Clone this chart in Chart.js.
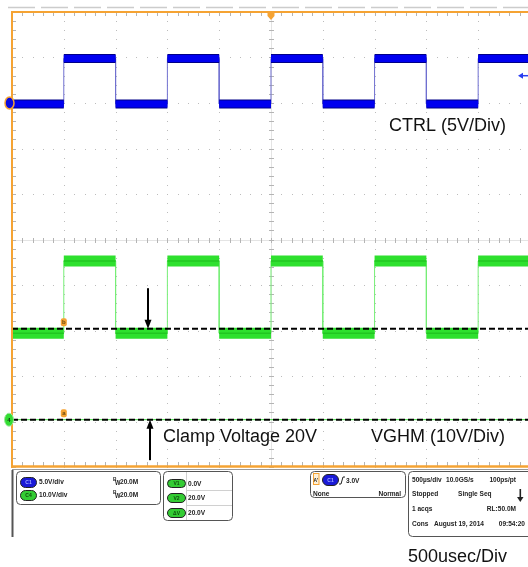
<!DOCTYPE html>
<html><head><meta charset="utf-8">
<script src="https://cdn.jsdelivr.net/npm/chart.js@4.4.0/dist/chart.umd.min.js"></script>
<style>html,body{margin:0;padding:0;background:#fff;overflow:hidden}canvas{display:block}</style>
</head><body>
<canvas id="c" width="528" height="567"></canvas>
<script>
// ---- data read from the scope capture (time in µs relative to trigger, volts) ----
const ctrlTimeUs = [-2500, -2000, -2000, -1500, -1500, -1000, -1000, -500, -500, 0, 0, 500, 500, 1000, 1000, 1500, 1500, 2000, 2000, 2481];
const ctrlVolts  = [-0.1, -0.1, 4.9, 4.9, -0.1, -0.1, 4.9, 4.9, -0.1, -0.1, 4.9, 4.9, -0.1, -0.1, 4.9, 4.9, -0.1, -0.1, 4.9, 4.9];
const vghmTimeUs = [-2497, -2497, -2000, -2000, -1500, -1500, -1000, -1000, -500, -500, 0, 0, 500, 500, 1000, 1000, 1500, 1500, 2000, 2000, 2481];
const vghmVolts  = [30, 19.0, 19.0, 34.9, 34.9, 19.0, 19.0, 34.9, 34.9, 19.0, 19.0, 34.9, 34.9, 19.0, 19.0, 34.9, 34.9, 19.0, 19.0, 34.9, 34.9];
const cursorVolts = [0, 20];          // V1 / V2 cursors on VGHM
const cursorLabels = ['a', 'b'];
const triggerLevelVolts = 3.0;
const clampArrowDown = { t: -1187, from: 28.9, to: 20 };
const clampArrowUp   = { t: -1168, from: -8.9, to: 0 };
const timeRangeUs = [-2500, 2481];
const ctrlRangeV = [-40, 10];        // 5 V/div, 10 div
const vghmRangeV = [-10.4, 89.6];    // 10 V/div, 10 div

const pts = (ts, vs) => ts.map((t, i) => ({ x: t, y: vs[i] }));
function flatSegments(ts, vs) {
  const out = [];
  for (let i = 0; i < ts.length - 1; i++) {
    if (vs[i] === vs[i + 1] && ts[i] !== ts[i + 1]) {
      out.push({ x: ts[i], y: vs[i] }, { x: ts[i + 1], y: vs[i + 1] }, { x: ts[i + 1], y: null });
    }
  }
  return out;
}

const ORANGE = '#f5a333';
const scopePlugin = {
  id: 'scope',
  beforeDatasetsDraw(chart) {
    const { ctx, chartArea: a, scales: { x, y } } = chart;
    ctx.save();
    ctx.strokeStyle = '#cccccc'; ctx.lineWidth = 1.5; ctx.setLineDash([27, 6]);
    ctx.beginPath(); ctx.moveTo(8, 7.5); ctx.lineTo(528, 7.5); ctx.stroke(); ctx.setLineDash([]);
    const majX = [], minX = [], majY = [], minY = [];
    for (let t = -2500; t <= 2500; t += 100) { const px = Math.round(x.getPixelForValue(t)); minX.push(px); if ((t + 2500) % 500 === 0) majX.push(px); }
    for (let v = -40; v <= 10; v += 1) { const py = Math.round(y.getPixelForValue(v)); minY.push(py); if ((v + 40) % 5 === 0) majY.push(py); }
    const cx = Math.round(x.getPixelForValue(0)), cy = Math.round(y.getPixelForValue(-15));
    ctx.fillStyle = '#e4e4e4';
    ctx.fillRect(cx, a.top, 1, a.bottom - a.top);
    ctx.fillRect(a.left, cy, a.right - a.left, 1);
    ctx.fillStyle = '#bcbcbc';
    majX.forEach(px => { if (px > a.left + 2) minY.forEach(py => ctx.fillRect(px, py, 1, 1)); });
    majY.forEach(py => { if (py > a.top + 2 && py < a.bottom - 2) minX.forEach(px => ctx.fillRect(px, py, 1, 1)); });
    ctx.fillStyle = '#b4b4b4';
    minY.forEach(py => { ctx.fillRect(cx - 2, py, 5, 1); ctx.fillRect(a.left, py, 4, 1); });
    minX.forEach(px => { ctx.fillRect(px, cy - 2, 1, 5); ctx.fillRect(px, a.top, 1, 4); ctx.fillRect(px, a.bottom - 5, 1, 4); });
    ctx.restore();
  },
  afterDatasetsDraw(chart) {
    const { ctx, chartArea: a, scales: { x, y, yV } } = chart;
    ctx.save();
    ctx.strokeStyle = ORANGE; ctx.lineWidth = 2;
    ctx.beginPath(); ctx.moveTo(11, 12); ctx.lineTo(528, 12); ctx.stroke();
    ctx.beginPath(); ctx.moveTo(12, 11); ctx.lineTo(12, 468); ctx.stroke();
    ctx.lineWidth = 2.5;
    ctx.beginPath(); ctx.moveTo(11, 466.5); ctx.lineTo(528, 466.5); ctx.stroke();
    const tx = x.getPixelForValue(0);
    ctx.fillStyle = ORANGE;
    ctx.beginPath(); ctx.moveTo(tx - 3.5, 11); ctx.lineTo(tx + 3.5, 11); ctx.lineTo(tx + 3.5, 16); ctx.lineTo(tx, 20); ctx.lineTo(tx - 3.5, 16); ctx.closePath(); ctx.fill();
    const c1y = y.getPixelForValue(0);
    ctx.beginPath(); ctx.ellipse(9.5, c1y, 4.5, 6, 0, 0, Math.PI * 2);
    ctx.fillStyle = '#0a0ae0'; ctx.fill(); ctx.strokeStyle = ORANGE; ctx.lineWidth = 1.5; ctx.stroke();
    const c4y = yV.getPixelForValue(0);
    ctx.beginPath(); ctx.ellipse(9, c4y, 4.5, 6.5, 0, 0, Math.PI * 2);
    ctx.fillStyle = '#33dd33'; ctx.fill(); ctx.strokeStyle = '#9be89b'; ctx.lineWidth = 1; ctx.stroke();
    ctx.fillStyle = '#114411'; ctx.font = 'bold 6px "Liberation Sans"'; ctx.textAlign = 'center'; ctx.textBaseline = 'middle';
    ctx.fillText('4', 9, c4y + 0.5);
    const tly = y.getPixelForValue(triggerLevelVolts);
    ctx.strokeStyle = '#2a3cf0'; ctx.fillStyle = '#2a3cf0'; ctx.lineWidth = 1.5;
    ctx.beginPath(); ctx.moveTo(522, tly); ctx.lineTo(528, tly); ctx.stroke();
    ctx.beginPath(); ctx.moveTo(518, tly); ctx.lineTo(523, tly - 3); ctx.lineTo(523, tly + 3); ctx.closePath(); ctx.fill();
    cursorVolts.forEach((v, i) => {
      const mx = x.getPixelForValue(-2000), my = yV.getPixelForValue(v) - 6.5;
      ctx.fillStyle = ORANGE;
      ctx.beginPath(); ctx.roundRect(mx - 3, my - 4, 6, 8, 2); ctx.fill();
      ctx.fillStyle = '#6b4a10'; ctx.font = 'bold 6px "Liberation Sans"';
      ctx.fillText(cursorLabels[i], mx, my + 0.5);
    });
    const arrow = (ar) => {
      const ax = x.getPixelForValue(ar.t), y0 = yV.getPixelForValue(ar.from), y1 = yV.getPixelForValue(ar.to);
      const dir = y1 > y0 ? 1 : -1;
      ctx.strokeStyle = '#000'; ctx.fillStyle = '#000'; ctx.lineWidth = 2;
      ctx.beginPath(); ctx.moveTo(ax, y0); ctx.lineTo(ax, y1 - dir * 8); ctx.stroke();
      ctx.beginPath(); ctx.moveTo(ax, y1); ctx.lineTo(ax - 3.5, y1 - dir * 9); ctx.lineTo(ax + 3.5, y1 - dir * 9); ctx.closePath(); ctx.fill();
    };
    arrow(clampArrowDown); arrow(clampArrowUp);
    ctx.fillStyle = '#111'; ctx.font = '18px "Liberation Sans", Arial'; ctx.textAlign = 'left'; ctx.textBaseline = 'alphabetic';
    ctx.fillText('CTRL (5V/Div)', 389, 131);
    ctx.fillText('Clamp Voltage 20V', 163, 442);
    ctx.fillText('VGHM (10V/Div)', 371, 442);
    ctx.fillText('500usec/Div', 408, 562);
    ctx.restore();
  },
  afterDraw(chart) {
    const ctx = chart.ctx;
    ctx.save();
    ctx.strokeStyle = '#9a9a9a'; ctx.lineWidth = 1;
    ctx.beginPath(); ctx.moveTo(12, 469.5); ctx.lineTo(528, 469.5); ctx.stroke();
    ctx.strokeStyle = '#555'; ctx.lineWidth = 2;
    ctx.beginPath(); ctx.moveTo(12.5, 470); ctx.lineTo(12.5, 537); ctx.stroke();
    const box = (bx, by, w, h) => { ctx.strokeStyle = '#555'; ctx.lineWidth = 1; ctx.beginPath(); ctx.roundRect(bx + 0.5, by + 0.5, w, h, 4); ctx.stroke(); };
    const txt = (s, tx, ty, align, size) => {
      ctx.save(); ctx.fillStyle = '#222'; ctx.font = 'bold ' + (size || 8) + 'px "Liberation Sans"';
      ctx.textAlign = align || 'left'; ctx.textBaseline = 'alphabetic';
      ctx.translate(tx, ty); ctx.scale(0.82, 1); ctx.fillText(s, 0, 0); ctx.restore();
    };
    const pill = (px, py, w, h, fill, label, tc) => {
      ctx.beginPath(); ctx.roundRect(px + 0.5, py + 0.5, w, h, h / 2);
      ctx.fillStyle = fill; ctx.fill(); ctx.strokeStyle = '#222'; ctx.lineWidth = 1; ctx.stroke();
      ctx.save(); ctx.fillStyle = tc; ctx.font = 'bold 5px "Liberation Sans"'; ctx.textAlign = 'center'; ctx.textBaseline = 'middle';
      ctx.fillText(label, px + w / 2 + 0.5, py + h / 2 + 1); ctx.restore();
    };
    box(16, 471, 144, 33);
    pill(20, 477, 16, 10, '#1a1ad8', 'C1', '#9fa8ff');
    pill(20, 490, 16, 10, '#33cc33', 'C4', '#0d4d0d');
    txt('5.0V/div', 39, 484); txt('10.0V/div', 39, 497);
    [484, 497].forEach(by => { txt('B', 113, by - 3, 'left', 6); txt('W', 115, by + 1, 'left', 7); txt('20.0M', 120, by); });
    box(163, 471, 69, 49);
    ctx.strokeStyle = '#d0d0d0'; ctx.lineWidth = 1;
    ctx.beginPath(); ctx.moveTo(186.5, 472); ctx.lineTo(186.5, 520); ctx.moveTo(186, 490.5); ctx.lineTo(232, 490.5); ctx.moveTo(186, 505.5); ctx.lineTo(232, 505.5); ctx.stroke();
    pill(167, 479, 18, 8, '#33cc33', 'V1', '#0d4d0d');
    pill(167, 493, 18, 9, '#33cc33', 'V2', '#0d4d0d');
    pill(167, 508, 18, 9, '#33cc33', 'ΔV', '#0d4d0d');
    txt('0.0V', 188, 486); txt('20.0V', 188, 500); txt('20.0V', 188, 515);
    box(310, 471, 95, 26);
    ctx.fillStyle = '#fdf0d8'; ctx.fillRect(313, 473.5, 6, 11); ctx.strokeStyle = ORANGE; ctx.strokeRect(313.5, 473.5, 5.5, 11);
    txt("A'", 313.5, 482, 'left', 6);
    pill(322, 474, 16, 11, '#1a1ad8', 'C1', '#9fa8ff');
    ctx.strokeStyle = '#222'; ctx.lineWidth = 1;
    ctx.beginPath(); ctx.moveTo(339, 484); ctx.lineTo(341, 484); ctx.lineTo(343, 477); ctx.lineTo(345, 477); ctx.stroke();
    txt('3.0V', 346, 483);
    txt('None', 313, 496); txt('Normal', 401, 496, 'right');
    box(408, 471, 125, 65);
    txt('500µs/div', 412, 482); txt('10.0GS/s', 446, 482); txt('100ps/pt', 516, 482, 'right');
    txt('Stopped', 412, 496); txt('Single Seq', 458, 496);
    ctx.fillStyle = '#222'; ctx.fillRect(519.5, 489, 1.6, 9);
    ctx.beginPath(); ctx.moveTo(517, 497); ctx.lineTo(523.5, 497); ctx.lineTo(520.3, 502); ctx.closePath(); ctx.fill();
    txt('1 acqs', 412, 511); txt('RL:50.0M', 516, 511, 'right');
    txt('Cons', 412, 526); txt('August 19, 2014', 434, 526); txt('09:54:20', 525, 526, 'right');
    ctx.restore();
  }
};

const common = { pointRadius: 0, tension: 0, fill: false, borderCapStyle: 'butt', spanGaps: false, clip: 0 };
new Chart(document.getElementById('c'), {
  type: 'line',
  data: {
    datasets: [
      Object.assign({}, common, { label: 'V2 cursor', data: [{ x: timeRangeUs[0], y: cursorVolts[1] }, { x: timeRangeUs[1], y: cursorVolts[1] }], yAxisID: 'yV', borderColor: '#000', borderWidth: 2, borderDash: [6, 3], order: 0 }),
      Object.assign({}, common, { label: 'V1 cursor', data: [{ x: timeRangeUs[0], y: cursorVolts[0] }, { x: timeRangeUs[1], y: cursorVolts[0] }], yAxisID: 'yV', borderColor: '#000', borderWidth: 2, borderDash: [6, 3], order: 1 }),
      Object.assign({}, common, { label: 'V1 ref', data: [{ x: timeRangeUs[0], y: cursorVolts[0] }, { x: timeRangeUs[1], y: cursorVolts[0] }], yAxisID: 'yV', borderColor: '#44dd44', borderWidth: 1, order: 2 }),
      Object.assign({}, common, { label: 'VGHM core', data: flatSegments(vghmTimeUs, vghmVolts), yAxisID: 'yV', borderColor: '#22c622', borderWidth: 1.5, order: 3 }),
      Object.assign({}, common, { label: 'VGHM band', data: flatSegments(vghmTimeUs, vghmVolts), yAxisID: 'yV', borderColor: '#2ee02e', borderWidth: 11, order: 4 }),
      Object.assign({}, common, { label: 'VGHM', data: pts(vghmTimeUs, vghmVolts), yAxisID: 'yV', borderColor: '#77ee77', borderWidth: 1, order: 5 }),
      Object.assign({}, common, { label: 'CTRL core', data: flatSegments(ctrlTimeUs, ctrlVolts), yAxisID: 'y', borderColor: '#0000f0', borderWidth: 7, order: 6 }),
      Object.assign({}, common, { label: 'CTRL band', data: flatSegments(ctrlTimeUs, ctrlVolts), yAxisID: 'y', borderColor: '#000088', borderWidth: 9, order: 7 }),
      Object.assign({}, common, { label: 'CTRL', data: pts(ctrlTimeUs, ctrlVolts), yAxisID: 'y', borderColor: '#7070d0', borderWidth: 1, order: 8 })
    ]
  },
  options: {
    responsive: false, animation: false, devicePixelRatio: 1, events: [],
    layout: { padding: { left: 12, top: 12, right: 0, bottom: 100 } },
    plugins: { legend: { display: false }, tooltip: { enabled: false } },
    scales: {
      x: { type: 'linear', display: false, min: timeRangeUs[0], max: timeRangeUs[1] },
      y: { type: 'linear', display: false, min: ctrlRangeV[0], max: ctrlRangeV[1] },
      yV: { type: 'linear', display: false, min: vghmRangeV[0], max: vghmRangeV[1] }
    }
  },
  plugins: [scopePlugin]
});
</script>
</body></html>
